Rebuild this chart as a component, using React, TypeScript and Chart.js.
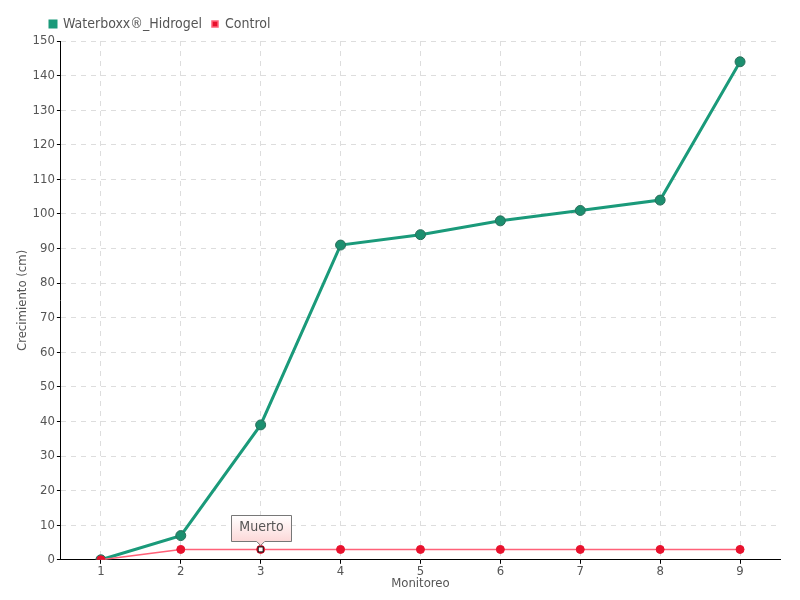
import React, { useEffect, useRef } from "react";
import { Chart, registerables } from "chart.js";

Chart.register(...registerables);

const categories = ["1", "2", "3", "4", "5", "6", "7", "8", "9"];
const waterboxxValues = [0, 7, 39, 91, 94, 98, 101, 104, 144];
const controlValues = [0, 3, 3, 3, 3, 3, 3, 3, 3];
const annotationIndex = 2;
const annotationText = "Muerto";

const FONT = "'Liberation Sans Narrow', 'DejaVu Sans Condensed', 'DejaVu Sans', sans-serif";

const legendShift = {
  id: "legendShift",
  afterLayout(chart: any) {
    if (chart.legend) {
      chart.legend.left += 25;
      chart.legend.right += 25;
    }
  },
};

const notePlugin = {
  id: "note",
  afterDatasetsDraw(chart: any) {
    const meta = chart.getDatasetMeta(1);
    const el = meta.data[annotationIndex];
    if (!el) return;
    const ctx = chart.ctx;
    const x = el.x;
    const y = el.y;
    ctx.save();
    ctx.fillStyle = "#ffffff";
    ctx.strokeStyle = "#000000";
    ctx.lineWidth = 1;
    ctx.fillRect(x - 2.5, y - 2.5, 5, 5);
    ctx.strokeRect(x - 2.5, y - 2.5, 5, 5);
    ctx.font = "14px " + FONT;
    const w = 60;
    const h = 26;
    const bx = Math.round(x - w / 2) + 0.5;
    const by = Math.round(y - 34) + 0.5;
    const g = ctx.createLinearGradient(0, by, 0, by + h);
    g.addColorStop(0, "#ffffff");
    g.addColorStop(1, "#fcd8d8");
    ctx.beginPath();
    ctx.moveTo(bx, by);
    ctx.lineTo(bx + w, by);
    ctx.lineTo(bx + w, by + h);
    ctx.lineTo(x + 4, by + h);
    ctx.lineTo(x, by + h + 4);
    ctx.lineTo(x - 4, by + h);
    ctx.lineTo(bx, by + h);
    ctx.closePath();
    ctx.fillStyle = g;
    ctx.fill();
    ctx.strokeStyle = "#777777";
    ctx.stroke();
    ctx.fillStyle = "#555555";
    ctx.textAlign = "center";
    ctx.textBaseline = "middle";
    ctx.fillText(annotationText, bx + w / 2, by + h / 2 - 1);
    ctx.restore();
  },
};

export default function App() {
  const ref = useRef<HTMLCanvasElement>(null);
  useEffect(() => {
    if (!ref.current) return;
    const chart = new Chart(ref.current, {
      type: "line",
      data: {
        labels: categories,
        datasets: [
          {
            label: "Waterboxx®_Hidrogel",
            data: waterboxxValues,
            borderColor: "#1a9a7a",
            backgroundColor: "#1a9a7a",
            borderWidth: 3,
            pointRadius: 5,
            pointBackgroundColor: "#1c8f6f",
            pointBorderColor: "#2b6e5b",
            pointBorderWidth: 1,
            tension: 0,
            order: 1,
          },
          {
            label: "Control",
            data: controlValues,
            borderColor: "#ff6178",
            backgroundColor: "#e8112d",
            borderWidth: 1.5,
            pointRadius: 4,
            pointBackgroundColor: "#e8112d",
            pointBorderColor: "#e8112d",
            pointBorderWidth: 1,
            tension: 0,
            order: 0,
          },
        ],
      },
      options: {
        responsive: false,
        animation: false,
        layout: { padding: { left: 15, right: 20, top: 7, bottom: 9 } },
        plugins: {
          legend: {
            align: "start",
            labels: {
              boxWidth: 6,
              boxHeight: 6,
              padding: 10,
              color: "#555555",
              font: { family: FONT, size: 14 },
              sort: (a: any, b: any) => a.datasetIndex - b.datasetIndex,
            },
          },
          tooltip: { enabled: false },
        },
        scales: {
          x: {
            offset: true,
            grid: {
              offset: false,
              color: "#dddddd",
              tickColor: "#000000",
              tickLength: 4,
            },
            border: { display: true, color: "#000000", width: 1, dash: [5, 5] },
            ticks: { color: "#555555", font: { family: FONT, size: 13 }, padding: 0 },
            title: {
              display: true,
              text: "Monitoreo",
              color: "#555555",
              font: { family: FONT, size: 13 },
              padding: { top: -4, bottom: 0 },
            },
          },
          y: {
            min: 0,
            max: 150,
            grid: {
              color: "#dddddd",
              tickColor: "#000000",
              tickLength: 4,
            },
            border: { display: true, color: "#000000", width: 1, dash: [5, 5] },
            ticks: { stepSize: 10, color: "#555555", font: { family: FONT, size: 13 }, padding: 2 },
            title: {
              display: true,
              text: "Crecimiento (cm)",
              color: "#555555",
              font: { family: FONT, size: 13 },
              padding: { top: 0, bottom: 0 },
            },
          },
        },
      },
      plugins: [notePlugin, legendShift],
    } as any);
    return () => chart.destroy();
  }, []);
  return (
    <div style={{ position: "absolute", left: 0, top: 0, width: 800, height: 600 }}>
      <canvas ref={ref} width={800} height={600} />
    </div>
  );
}
